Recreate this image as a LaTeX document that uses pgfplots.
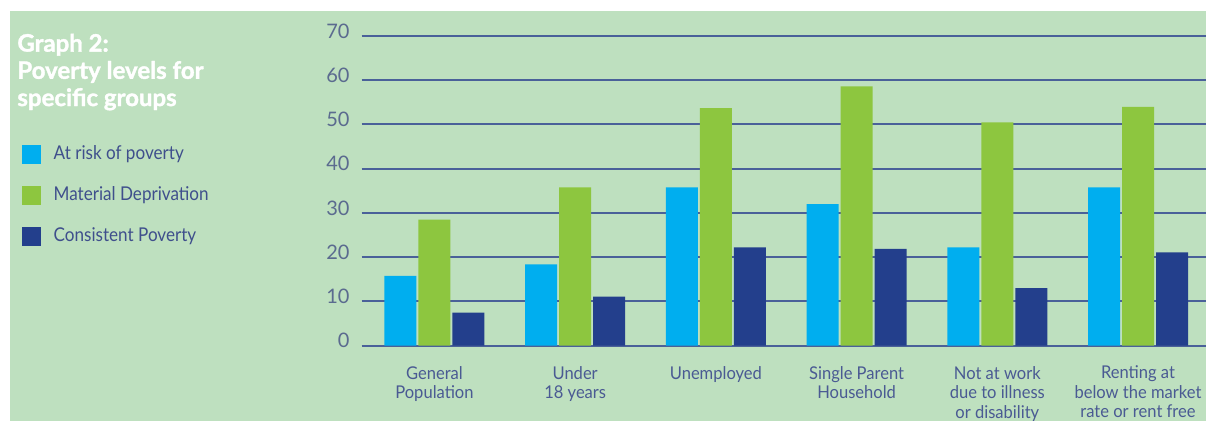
\documentclass[border=0pt]{standalone}
\usepackage{fontspec}
\setmainfont{Lato}
\newfontfamily\condfont[FakeStretch=0.94]{Lato}
\newfontfamily\legfont[FakeStretch=0.9]{Lato}
\newfontfamily\titlefont[BoldFeatures={FakeBold=1.5}]{Lato}
\usepackage{pgfplots}
\pgfplotsset{compat=1.18}
\definecolor{bgc}{HTML}{BEE0BF}
\definecolor{cyanbar}{HTML}{00AEEF}
\definecolor{greenbar}{HTML}{8DC63F}
\definecolor{navybar}{HTML}{233F8C}
\definecolor{gridc}{HTML}{4A6199}
\definecolor{tickc}{HTML}{5B6B8F}
\definecolor{labc}{HTML}{4A5A93}
\definecolor{legc}{HTML}{3F4F8C}
\pgfplotsset{sqleg/.style={legend image code/.code={\fill[##1,draw=none] (0pt,-4.75pt) rectangle (9.5pt,4.75pt);}}}
\begin{document}
\begin{tikzpicture}
\fill[white] (0,0) rectangle (603pt,210.5pt);
\fill[bgc] (5pt,0) rectangle (603pt,205pt);
\begin{axis}[
  at={(180.85pt,37.65pt)}, anchor=south west,
  scale only axis, width=422.15pt, height=154.85pt,
  xmin=-0.517, xmax=5.483, ymin=0, ymax=70,
  axis line style={draw=none},
  major tick length=0pt,
  ytick={0,10,...,70},
  ymajorgrids, grid style={line width=1pt, gridc},
  xtick={0,1,2,3,4,5},
  xticklabels={{General\\Population},{Under\\18 years},{Unemployed},{Single Parent\\Household},{Not at work\\due to illness\\or disability},{Renting at\\below the market\\rate or rent free}},
  xticklabel style={align=center, anchor=north, inner sep=0pt, yshift=-10pt, text=labc, font=\condfont\fontsize{8.8}{9.75}\selectfont},
  yticklabel style={anchor=east, inner sep=0pt, xshift=-5.85pt, yshift=2.5pt, text=tickc, font=\fontsize{10}{12}\selectfont},
  /pgf/number format/assume math mode=true,
  ybar=1pt, bar width=16pt,
  legend style={at={(axis description cs:-0.4027,0.6503)}, anchor=north west, draw=none, fill=none, inner sep=0pt, row sep=11pt, font=\legfont\fontsize{9.5}{11}\selectfont, text=legc, nodes={inner sep=0pt}},
  legend cell align=left,
  legend style={/tikz/every odd column/.append style={column sep=6.3pt}},
]
\addplot[fill=cyanbar, draw=none, sqleg] coordinates {(0,15.8) (1,18.4) (2,35.8) (3,32.0) (4,22.2) (5,35.8)};
\addplot[fill=greenbar, draw=none, sqleg] coordinates {(0,28.5) (1,35.8) (2,53.7) (3,58.6) (4,50.5) (5,54.0)};
\addplot[fill=navybar, draw=none, sqleg] coordinates {(0,7.5) (1,11.1) (2,22.2) (3,21.9) (4,13.0) (5,21.1)};
\legend{At risk of poverty, Material Deprivation, Consistent Poverty}
\end{axis}
\node[anchor=north west, inner sep=0pt, align=left, text=white, font=\titlefont\bfseries\fontsize{12}{13.6}\selectfont] at (8.5pt,193.8pt) {Graph 2:\\Poverty levels for\\specific groups};
\pgfresetboundingbox
\path[use as bounding box] (0,0) rectangle (603pt,210.5pt);
\end{tikzpicture}
\end{document}
